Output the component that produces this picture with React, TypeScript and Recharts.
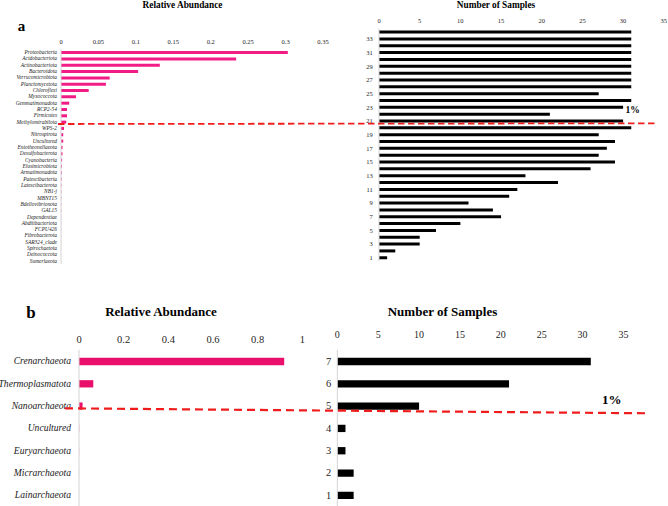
import { Bar, BarChart, XAxis, YAxis } from "recharts";

const serif = "'Liberation Serif', 'Times New Roman', serif";

// panel a, bacteria
const bacteriaPhyla = [
  "Proteobacteria", "Acidobacteriota", "Actinobacteriota", "Bacteroidota",
  "Verrucomicrobiota", "Planctomycetota", "Chloroflexi", "Myxococcota",
  "Gemmatimonadota", "RCP2-54", "Firmicutes", "Methylomirabilota", "WPS-2",
  "Nitrospirota", "Uncultured", "Entotheonellaeota", "Desulfobacterota",
  "Cyanobacteria", "Elusimicrobiota", "Armatimonadota", "Patescibacteria",
  "Latescibacterota", "NB1-j", "MBNT15", "Bdellovibrionota", "GAL15",
  "Dependentiae", "Abditibacteriota", "FCPU426", "Fibrobacterota",
  "SAR324_clade", "Spirochaetota", "Deinococcota", "Sumerlaeota",
];
const bacteriaAbundance = [
  0.303, 0.234, 0.132, 0.103, 0.065, 0.06, 0.037, 0.02, 0.011, 0.008, 0.008,
  0.007, 0.004, 0.003, 0.003, 0.002, 0.002, 0.0015, 0.0012, 0.001, 0.0008,
  0.0006, 0.0005, 0.0004, 0.0003, 0.0003, 0.0002, 0.0002, 0.0002, 0.0001,
  0.0001, 0.0001, 0.00005, 0.00005,
];
const bacteriaRanks = [
  "34", "33", "32", "31", "30", "29", "28", "27", "26", "25", "24", "23",
  "22", "21", "20", "19", "18", "17", "16", "15", "14", "13", "12", "11",
  "10", "9", "8", "7", "6", "5", "4", "3", "2", "1",
];
const bacteriaSamples = [
  31, 31, 31, 31, 31, 31, 31, 31, 31, 27, 31, 30, 21, 30, 31, 27, 29, 28, 27,
  29, 26, 18, 22, 17, 16, 11, 14, 15, 10, 7, 5, 5, 2, 1,
];

// panel b, archaea
const archaeaPhyla = [
  "Crenarchaeota", "Thermoplasmatota", "Nanoarchaeota", "Uncultured",
  "Euryarchaeota", "Micrarchaeota", "Lainarchaeota",
];
const archaeaAbundance = [0.919, 0.064, 0.016, 0.0008, 0.0005, 0.0003, 0.0002];
const archaeaRanks = ["7", "6", "5", "4", "3", "2", "1"];
const archaeaSamples = [31, 21, 10, 1, 1, 2, 2];

const abundanceTicksA = [0, 0.05, 0.1, 0.15, 0.2, 0.25, 0.3, 0.35];
const abundanceTicksB = [0, 0.2, 0.4, 0.6, 0.8, 1];
const sampleTicks = [0, 5, 10, 15, 20, 25, 30, 35];

const bacteriaAbundanceData = bacteriaPhyla.map((name, i) => ({
  name,
  value: bacteriaAbundance[i],
}));
const bacteriaSampleData = bacteriaRanks.map((name, i) => ({
  name,
  value: bacteriaSamples[i],
}));
const archaeaAbundanceData = archaeaPhyla.map((name, i) => ({
  name,
  value: archaeaAbundance[i],
}));
const archaeaSampleData = archaeaRanks.map((name, i) => ({
  name,
  value: archaeaSamples[i],
}));

const pinkA = "#f21c86";
const pinkB = "#e8106a";
const axisGrey = "#d4d4d4";
const tickInk = "#262626";

export default function App() {
  return (
    <div
      style={{
        position: "absolute",
        left: 0,
        top: 0,
        width: 668,
        height: 506,
        background: "#fff",
        fontFamily: serif,
      }}
    >
      <div style={{ position: "absolute", left: 0, top: 0 }}>
        <BarChart
          width={340}
          height={270}
          data={bacteriaAbundanceData}
          layout="vertical"
          margin={{ top: 30, right: 17, bottom: 6, left: 0 }}
        >
          <XAxis
            type="number"
            orientation="top"
            domain={[0, 0.35]}
            ticks={abundanceTicksA}
            height={19.1}
            axisLine={false}
            tickLine={false}
            tickSize={0}
            tickMargin={5}
            tick={{ fontSize: 6.5, fill: tickInk, fontFamily: serif }}
          />
          <YAxis
            type="category"
            dataKey="name"
            width={61}
            interval={0}
            axisLine={{ stroke: axisGrey }}
            tickLine={false}
            tickSize={0}
            tickMargin={4}
            tick={{
              fontSize: 5.4,
              fill: "#222",
              fontStyle: "italic",
              fontFamily: serif,
            }}
          />
          <Bar dataKey="value" fill={pinkA} barSize={3} isAnimationActive={false} />
        </BarChart>
      </div>

      <div style={{ position: "absolute", left: 340, top: 0 }}>
        <BarChart
          width={328}
          height={270}
          data={bacteriaSampleData}
          layout="vertical"
          margin={{ top: 10, right: 4.2, bottom: 8.9, left: 0 }}
        >
          <XAxis
            type="number"
            orientation="top"
            domain={[0, 35]}
            ticks={sampleTicks}
            height={18.6}
            axisLine={false}
            tickLine={false}
            tickSize={0}
            tickMargin={5.3}
            tick={{ fontSize: 6.5, fill: tickInk, fontFamily: serif }}
          />
          <YAxis
            type="category"
            dataKey="name"
            width={39}
            interval={0}
            axisLine={{ stroke: axisGrey }}
            tickLine={false}
            tickSize={0}
            tickMargin={6.3}
            tickFormatter={(v) => (Number(v) % 2 === 1 ? v : "")}
            tick={{ fontSize: 6.5, fill: tickInk, fontFamily: serif }}
          />
          <Bar dataKey="value" fill="#000" barSize={3} isAnimationActive={false} />
        </BarChart>
      </div>

      <div style={{ position: "absolute", left: 0, top: 300 }}>
        <BarChart
          width={330}
          height={206}
          data={archaeaAbundanceData}
          layout="vertical"
          margin={{ top: 25, right: 27.7, bottom: 0, left: 0 }}
        >
          <XAxis
            type="number"
            orientation="top"
            domain={[0, 1]}
            ticks={abundanceTicksB}
            height={24.85}
            axisLine={false}
            tickLine={false}
            tickSize={0}
            tickMargin={7.2}
            tick={{ fontSize: 10.5, fill: tickInk, fontFamily: serif }}
          />
          <YAxis
            type="category"
            dataKey="name"
            width={79}
            interval={0}
            axisLine={{ stroke: axisGrey }}
            tickLine={false}
            tickSize={0}
            tickMargin={8}
            tick={{
              fontSize: 9.6,
              fill: "#222",
              fontStyle: "italic",
              fontFamily: serif,
            }}
          />
          <Bar dataKey="value" fill={pinkB} barSize={7.3} isAnimationActive={false} />
        </BarChart>
      </div>

      <div style={{ position: "absolute", left: 310, top: 300 }}>
        <BarChart
          width={358}
          height={206}
          data={archaeaSampleData}
          layout="vertical"
          margin={{ top: 25, right: 44.5, bottom: 0, left: 0 }}
        >
          <XAxis
            type="number"
            orientation="top"
            domain={[0, 35]}
            ticks={sampleTicks}
            height={24.85}
            axisLine={false}
            tickLine={false}
            tickSize={0}
            tickMargin={12}
            tick={{ fontSize: 10, fill: tickInk, fontFamily: serif }}
          />
          <YAxis
            type="category"
            dataKey="name"
            width={27.3}
            interval={0}
            axisLine={{ stroke: axisGrey }}
            tickLine={false}
            tickSize={0}
            tickMargin={6}
            tick={{ fontSize: 10.5, fill: tickInk, fontFamily: serif }}
          />
          <Bar dataKey="value" fill="#000" barSize={7.3} isAnimationActive={false} />
        </BarChart>
      </div>

      {/* titles, panel letters, 1% threshold lines */}
      <svg
        width={668}
        height={506}
        style={{ position: "absolute", left: 0, top: 0, pointerEvents: "none" }}
        fontFamily={serif}
      >
        <text x={182.5} y={7.5} fontSize={9.3} fontWeight="bold" textAnchor="middle">
          Relative Abundance
        </text>
        <text x={496} y={7.5} fontSize={9.3} fontWeight="bold" textAnchor="middle">
          Number of Samples
        </text>
        <text x={21.5} y={31} fontSize={15} fontWeight="bold" textAnchor="middle">
          a
        </text>
        <text x={632.5} y={113.3} fontSize={9.5} fontWeight="bold" textAnchor="middle">
          1%
        </text>
        <line x1={58} y1={124} x2={656} y2={123.3} stroke="#f01c1c" strokeWidth={1.8} strokeDasharray="6.5 3.5" />

        <text x={161} y={316.3} fontSize={13} fontWeight="bold" textAnchor="middle">
          Relative Abundance
        </text>
        <text x={442.5} y={316.3} fontSize={13} fontWeight="bold" textAnchor="middle">
          Number of Samples
        </text>
        <text x={31} y={317.5} fontSize={17} fontWeight="bold" textAnchor="middle">
          b
        </text>
        <text x={611.7} y={403.5} fontSize={13} fontWeight="bold" textAnchor="middle">
          1%
        </text>
        <line x1={65} y1={408.3} x2={648} y2={413.3} stroke="#f01c1c" strokeWidth={2.2} strokeDasharray="8 5" />
      </svg>
    </div>
  );
}
